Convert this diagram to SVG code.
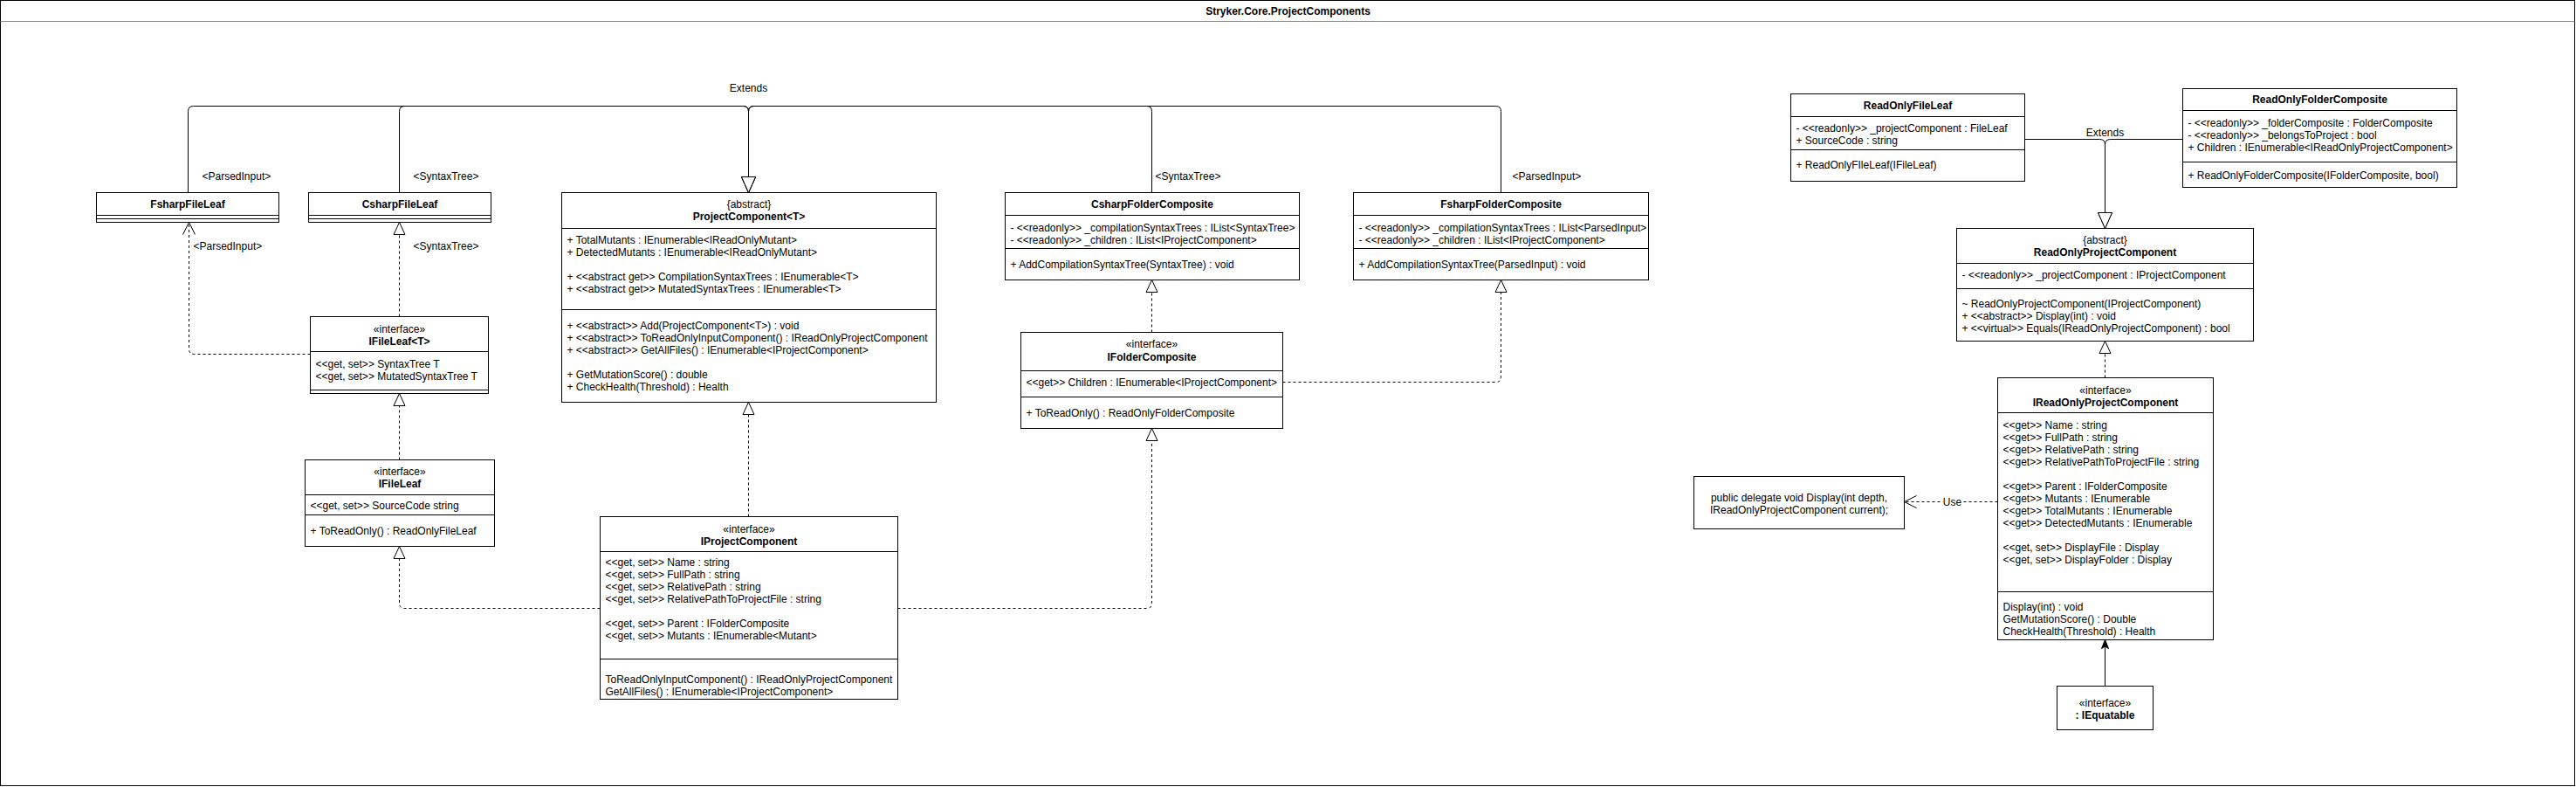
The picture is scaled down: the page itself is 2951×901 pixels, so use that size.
<svg xmlns="http://www.w3.org/2000/svg" width="2951" height="901" viewBox="0 0 2951 901">
<style>
.box{fill:#fff;stroke:#000;stroke-width:1}
.dv{stroke:#000;stroke-width:1}
.t{font-family:"Liberation Sans",Arial,Helvetica,sans-serif;font-size:12px;fill:#000;dominant-baseline:central}
.b{font-weight:bold}
.c{text-anchor:middle}
.e{fill:none;stroke:#000;stroke-width:1}
.d{stroke-dasharray:3 3}
.ext{marker-end:url(#ext)}
.impl{marker-end:url(#impl)}
.open{marker-end:url(#open)}
.fill{marker-end:url(#filled)}
</style>
<defs>
<marker id="ext" markerUnits="userSpaceOnUse" markerWidth="20" markerHeight="18" refX="18" refY="8" orient="auto" overflow="visible">
<path d="M0,0 L18,8 L0,16 Z" fill="#fff" stroke="#000" stroke-width="1"/>
</marker>
<marker id="impl" markerUnits="userSpaceOnUse" markerWidth="16" markerHeight="15" refX="14" refY="6.5" orient="auto" overflow="visible">
<path d="M0,0 L14,6.5 L0,13 Z" fill="#fff" stroke="#000" stroke-width="1"/>
</marker>
<marker id="open" markerUnits="userSpaceOnUse" markerWidth="16" markerHeight="16" refX="14" refY="7" orient="auto" overflow="visible">
<path d="M0,0 L14,7 L0,14" fill="none" stroke="#000" stroke-width="1"/>
</marker>
<marker id="filled" markerUnits="userSpaceOnUse" markerWidth="12" markerHeight="10" refX="10" refY="4" orient="auto" overflow="visible">
<path d="M0,0 L10,4 L0,8 L2.5,4 Z" fill="#000" stroke="#000" stroke-width="1"/>
</marker>
</defs>
<rect x="0" y="0" width="2951" height="901" fill="#fff"/>
<g transform="translate(0.5,0.5)">
<g id="frame">
<rect x="0" y="0" width="2949" height="899" fill="none" stroke="#000"/>
<line x1="0" y1="24" x2="2949" y2="24" stroke="#8c8c8c"/>
<text class="t b c" x="1475" y="12">Stryker.Core.ProjectComponents</text>
</g>

<g id="connectors">
<path class="e ext" d="M215,220 V127 Q215,121 221,121 H851 Q857,121 857,127 V220"/>
<path class="e ext" d="M457,220 V127 Q457,121 463,121 H851 Q857,121 857,127 V220"/>
<path class="e ext" d="M1319,220 V127 Q1319,121 1313,121 H863 Q857,121 857,127 V220"/>
<path class="e ext" d="M1719,220 V127 Q1719,121 1713,121 H863 Q857,121 857,127 V220"/>
<text class="t c" x="857" y="100">Extends</text>
<text class="t" x="231" y="201">&lt;ParsedInput&gt;</text>
<text class="t" x="473" y="201">&lt;SyntaxTree&gt;</text>
<text class="t" x="1323" y="201">&lt;SyntaxTree&gt;</text>
<text class="t" x="1732" y="201">&lt;ParsedInput&gt;</text>

<path class="e d open" d="M355,405 H222 Q216,405 216,399 V254"/>
<text class="t" x="221" y="281">&lt;ParsedInput&gt;</text>
<path class="e d impl" d="M457,362 V254"/>
<text class="t" x="473" y="281">&lt;SyntaxTree&gt;</text>
<path class="e d impl" d="M457,526 V450"/>
<path class="e d impl" d="M687,696 H463 Q457,696 457,690 V625"/>
<path class="e d impl" d="M857,591 V460"/>
<path class="e d impl" d="M1028,696 H1313 Q1319,696 1319,690 V490"/>
<path class="e d impl" d="M1319,380 V320"/>
<path class="e d impl" d="M1469,437 H1713 Q1719,437 1719,431 V320"/>

<path class="e ext" d="M2319,159 H2405 Q2411,159 2411,165 V261"/>
<path class="e ext" d="M2500,159 H2417 Q2411,159 2411,165 V261"/>
<text class="t c" x="2411" y="151">Extends</text>
<path class="e d impl" d="M2411,432 V390"/>
<path class="e d open" d="M2288,574 H2181"/>
<rect x="2225" y="567" width="22" height="14" fill="#fff"/>
<text class="t c" x="2236" y="574">Use</text>
<path class="e fill" d="M2411,785 V732"/>
</g>

<g id="FsharpFileLeaf">
<rect class="box" x="110" y="220" width="209" height="34"/>
<line class="dv" x1="110" y1="246" x2="319" y2="246"/>
<line class="dv" x1="110" y1="250" x2="319" y2="250"/>
<text class="t b c" x="214.5" y="233">FsharpFileLeaf</text>
</g>

<g id="CsharpFileLeaf">
<rect class="box" x="353" y="220" width="209" height="34"/>
<line class="dv" x1="353" y1="246" x2="562" y2="246"/>
<line class="dv" x1="353" y1="250" x2="562" y2="250"/>
<text class="t b c" x="457.5" y="233">CsharpFileLeaf</text>
</g>

<g id="ProjectComponent">
<rect class="box" x="643" y="220" width="429" height="240"/>
<line class="dv" x1="643" y1="261" x2="1072" y2="261"/>
<line class="dv" x1="643" y1="354" x2="1072" y2="354"/>
<text class="t c" x="857.5" y="233">{abstract}</text>
<text class="t b c" x="857.5" y="247">ProjectComponent&lt;T&gt;</text>
<text class="t" x="649" y="274">+ TotalMutants : IEnumerable&lt;IReadOnlyMutant&gt;</text>
<text class="t" x="649" y="288">+ DetectedMutants : IEnumerable&lt;IReadOnlyMutant&gt;</text>
<text class="t" x="649" y="316">+ &lt;&lt;abstract get&gt;&gt; CompilationSyntaxTrees : IEnumerable&lt;T&gt;</text>
<text class="t" x="649" y="330">+ &lt;&lt;abstract get&gt;&gt; MutatedSyntaxTrees : IEnumerable&lt;T&gt;</text>
<text class="t" x="649" y="372">+ &lt;&lt;abstract&gt;&gt; Add(ProjectComponent&lt;T&gt;) : void</text>
<text class="t" x="649" y="386">+ &lt;&lt;abstract&gt;&gt; ToReadOnlyInputComponent() : IReadOnlyProjectComponent</text>
<text class="t" x="649" y="400">+ &lt;&lt;abstract&gt;&gt; GetAllFiles() : IEnumerable&lt;IProjectComponent&gt;</text>
<text class="t" x="649" y="428">+ GetMutationScore() : double</text>
<text class="t" x="649" y="442">+ CheckHealth(Threshold) : Health</text>
</g>

<g id="CsharpFolderComposite">
<rect class="box" x="1151" y="220" width="337" height="100"/>
<line class="dv" x1="1151" y1="246" x2="1488" y2="246"/>
<line class="dv" x1="1151" y1="284" x2="1488" y2="284"/>
<text class="t b c" x="1319.5" y="233">CsharpFolderComposite</text>
<text class="t" x="1157" y="260">- &lt;&lt;readonly&gt;&gt; _compilationSyntaxTrees : IList&lt;SyntaxTree&gt;</text>
<text class="t" x="1157" y="274">- &lt;&lt;readonly&gt;&gt; _children : IList&lt;IProjectComponent&gt;</text>
<text class="t" x="1157" y="302">+ AddCompilationSyntaxTree(SyntaxTree) : void</text>
</g>

<g id="FsharpFolderComposite">
<rect class="box" x="1550" y="220" width="338" height="100"/>
<line class="dv" x1="1550" y1="246" x2="1888" y2="246"/>
<line class="dv" x1="1550" y1="284" x2="1888" y2="284"/>
<text class="t b c" x="1719" y="233">FsharpFolderComposite</text>
<text class="t" x="1556" y="260">- &lt;&lt;readonly&gt;&gt; _compilationSyntaxTrees : IList&lt;ParsedInput&gt;</text>
<text class="t" x="1556" y="274">- &lt;&lt;readonly&gt;&gt; _children : IList&lt;IProjectComponent&gt;</text>
<text class="t" x="1556" y="302">+ AddCompilationSyntaxTree(ParsedInput) : void</text>
</g>

<g id="IFolderComposite">
<rect class="box" x="1169" y="380" width="300" height="110"/>
<line class="dv" x1="1169" y1="424" x2="1469" y2="424"/>
<line class="dv" x1="1169" y1="454" x2="1469" y2="454"/>
<text class="t c" x="1319" y="393">«interface»</text>
<text class="t b c" x="1319" y="408">IFolderComposite</text>
<text class="t" x="1175" y="437">&lt;&lt;get&gt;&gt; Children : IEnumerable&lt;IProjectComponent&gt;</text>
<text class="t" x="1175" y="472">+ ToReadOnly() : ReadOnlyFolderComposite</text>
</g>

<g id="IFileLeafT">
<rect class="box" x="355" y="362" width="204" height="88"/>
<line class="dv" x1="355" y1="402" x2="559" y2="402"/>
<line class="dv" x1="355" y1="446" x2="559" y2="446"/>
<text class="t c" x="457" y="376">«interface»</text>
<text class="t b c" x="457" y="390">IFileLeaf&lt;T&gt;</text>
<text class="t" x="361" y="416">&lt;&lt;get, set&gt;&gt; SyntaxTree T</text>
<text class="t" x="361" y="430">&lt;&lt;get, set&gt;&gt; MutatedSyntaxTree T</text>
</g>

<g id="IFileLeaf">
<rect class="box" x="349" y="526" width="217" height="99"/>
<line class="dv" x1="349" y1="566" x2="566" y2="566"/>
<line class="dv" x1="349" y1="589" x2="566" y2="589"/>
<text class="t c" x="457.5" y="539">«interface»</text>
<text class="t b c" x="457.5" y="553">IFileLeaf</text>
<text class="t" x="355" y="578">&lt;&lt;get, set&gt;&gt; SourceCode string</text>
<text class="t" x="355" y="607">+ ToReadOnly() : ReadOnlyFileLeaf</text>
</g>

<g id="IProjectComponent">
<rect class="box" x="687" y="591" width="341" height="209"/>
<line class="dv" x1="687" y1="631" x2="1028" y2="631"/>
<line class="dv" x1="687" y1="754" x2="1028" y2="754"/>
<text class="t c" x="857.5" y="605">«interface»</text>
<text class="t b c" x="857.5" y="619">IProjectComponent</text>
<text class="t" x="693" y="643">&lt;&lt;get, set&gt;&gt; Name : string</text>
<text class="t" x="693" y="657">&lt;&lt;get, set&gt;&gt; FullPath : string</text>
<text class="t" x="693" y="671">&lt;&lt;get, set&gt;&gt; RelativePath : string</text>
<text class="t" x="693" y="685">&lt;&lt;get, set&gt;&gt; RelativePathToProjectFile : string</text>
<text class="t" x="693" y="713">&lt;&lt;get, set&gt;&gt; Parent : IFolderComposite</text>
<text class="t" x="693" y="727">&lt;&lt;get, set&gt;&gt; Mutants : IEnumerable&lt;Mutant&gt;</text>
<text class="t" x="693" y="777">ToReadOnlyInputComponent() : IReadOnlyProjectComponent</text>
<text class="t" x="693" y="791">GetAllFiles() : IEnumerable&lt;IProjectComponent&gt;</text>
</g>

<g id="ReadOnlyFileLeaf">
<rect class="box" x="2051" y="107" width="268" height="100"/>
<line class="dv" x1="2051" y1="133" x2="2319" y2="133"/>
<line class="dv" x1="2051" y1="171" x2="2319" y2="171"/>
<text class="t b c" x="2185" y="120">ReadOnlyFileLeaf</text>
<text class="t" x="2057" y="146">- &lt;&lt;readonly&gt;&gt; _projectComponent : FileLeaf</text>
<text class="t" x="2057" y="160">+ SourceCode : string</text>
<text class="t" x="2057" y="188">+ ReadOnlyFIleLeaf(IFileLeaf)</text>
</g>

<g id="ReadOnlyFolderComposite">
<rect class="box" x="2500" y="101" width="314" height="113"/>
<line class="dv" x1="2500" y1="126" x2="2814" y2="126"/>
<line class="dv" x1="2500" y1="185" x2="2814" y2="185"/>
<text class="t b c" x="2657" y="113">ReadOnlyFolderComposite</text>
<text class="t" x="2506" y="140">- &lt;&lt;readonly&gt;&gt; _folderComposite : FolderComposite</text>
<text class="t" x="2506" y="154">- &lt;&lt;readonly&gt;&gt; _belongsToProject : bool</text>
<text class="t" x="2506" y="168">+ Children : IEnumerable&lt;IReadOnlyProjectComponent&gt;</text>
<text class="t" x="2506" y="200">+ ReadOnlyFolderComposite(IFolderComposite, bool)</text>
</g>

<g id="ReadOnlyProjectComponent">
<rect class="box" x="2241" y="261" width="340" height="129"/>
<line class="dv" x1="2241" y1="301" x2="2581" y2="301"/>
<line class="dv" x1="2241" y1="330" x2="2581" y2="330"/>
<text class="t c" x="2411" y="274">{abstract}</text>
<text class="t b c" x="2411" y="288">ReadOnlyProjectComponent</text>
<text class="t" x="2247" y="314">- &lt;&lt;readonly&gt;&gt; _projectComponent : IProjectComponent</text>
<text class="t" x="2247" y="347">~ ReadOnlyProjectComponent(IProjectComponent)</text>
<text class="t" x="2247" y="361">+ &lt;&lt;abstract&gt;&gt; Display(int) : void</text>
<text class="t" x="2247" y="375">+ &lt;&lt;virtual&gt;&gt; Equals(IReadOnlyProjectComponent) : bool</text>
</g>

<g id="IReadOnlyProjectComponent">
<rect class="box" x="2288" y="432" width="247" height="300"/>
<line class="dv" x1="2288" y1="472" x2="2535" y2="472"/>
<line class="dv" x1="2288" y1="677" x2="2535" y2="677"/>
<text class="t c" x="2411.5" y="446">«interface»</text>
<text class="t b c" x="2411.5" y="460">IReadOnlyProjectComponent</text>
<text class="t" x="2294" y="486">&lt;&lt;get&gt;&gt; Name : string</text>
<text class="t" x="2294" y="500">&lt;&lt;get&gt;&gt; FullPath : string</text>
<text class="t" x="2294" y="514">&lt;&lt;get&gt;&gt; RelativePath : string</text>
<text class="t" x="2294" y="528">&lt;&lt;get&gt;&gt; RelativePathToProjectFile : string</text>
<text class="t" x="2294" y="556">&lt;&lt;get&gt;&gt; Parent : IFolderComposite</text>
<text class="t" x="2294" y="570">&lt;&lt;get&gt;&gt; Mutants : IEnumerable</text>
<text class="t" x="2294" y="584">&lt;&lt;get&gt;&gt; TotalMutants : IEnumerable</text>
<text class="t" x="2294" y="598">&lt;&lt;get&gt;&gt; DetectedMutants : IEnumerable</text>
<text class="t" x="2294" y="626">&lt;&lt;get, set&gt;&gt; DisplayFile : Display</text>
<text class="t" x="2294" y="640">&lt;&lt;get, set&gt;&gt; DisplayFolder : Display</text>
<text class="t" x="2294" y="694">Display(int) : void</text>
<text class="t" x="2294" y="708">GetMutationScore() : Double</text>
<text class="t" x="2294" y="722">CheckHealth(Threshold) : Health</text>
</g>

<g id="DisplayDelegate">
<rect class="box" x="1940" y="545" width="241" height="60"/>
<text class="t c" x="2060.5" y="569">public delegate void Display(int depth,</text>
<text class="t c" x="2060.5" y="583">IReadOnlyProjectComponent current);</text>
</g>

<g id="IEquatable">
<rect class="box" x="2356" y="785" width="110" height="50"/>
<text class="t c" x="2411" y="804">«interface»</text>
<text class="t b c" x="2411" y="818">: IEquatable</text>
</g>
</g>
</svg>
